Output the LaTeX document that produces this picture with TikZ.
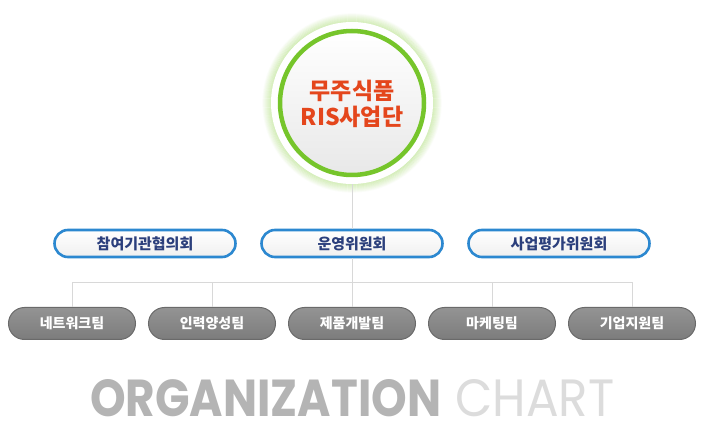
\documentclass[tikz,border=0pt]{standalone}
\usepackage{graphicx}
\usepackage{fontspec}
\newfontfamily\kr{Noto Sans CJK KR}
\newfontfamily\pop{Poppins}
\usetikzlibrary{shapes.misc,calc}
\definecolor{ringgreen}{HTML}{76C52B}
\definecolor{glowgreen}{HTML}{A8DC70}
\definecolor{titlered}{HTML}{E4461C}
\definecolor{boxblue}{HTML}{2C88D0}
\definecolor{navy}{HTML}{2B3F7C}
\definecolor{teamgray}{HTML}{8A8A8A}
\definecolor{teamedge}{HTML}{6A6A6A}
\definecolor{linegray}{HTML}{D8D8D8}
\definecolor{orggray}{HTML}{B4B4B4}
\definecolor{chartgray}{HTML}{DCDCDC}
\tikzset{
  comm/.style={rounded rectangle, draw=boxblue, line width=2.6pt, top color=white, bottom color=black!6,
    minimum width=181pt, minimum height=27pt, inner sep=0pt, text=navy,
    font=\kr\bfseries\fontsize{15}{17}\selectfont},
  team/.style={rounded rectangle, draw=teamedge, line width=1pt, top color=teamgray!92!white, bottom color=teamgray!90!black,
    minimum width=127pt, minimum height=32pt, inner sep=0pt, text=white,
    font=\kr\bfseries\fontsize{14}{16}\selectfont},
  conn/.style={draw=linegray, line width=1pt}
}
\begin{document}
\begin{tikzpicture}[x=1pt,y=-1pt]
\fill[white] (0,0) rectangle (704,435);
\useasboundingbox (0,0) rectangle (704,435);
% glow
\foreach \i in {0,...,10}{
  \pgfmathsetmacro\op{0.5*(1-\i/11)}
  \pgfmathsetmacro\rr{79+\i}
  \draw[glowgreen, opacity=\op, line width=1.2pt] (352,103) circle (\rr pt);
}
\node[circle, fill=white, minimum size=162pt, inner sep=0pt] (c) at (352,103) {};
\draw[ringgreen, line width=4.5pt, top color=white, bottom color=black!9] (c.center) circle (72pt);
\node[text=titlered, align=center, font=\kr\bfseries\fontsize{23}{26}\selectfont] (title) at (352,104) {무주식품\\RIS사업단};

% committees
\node[comm] (b1) at (145,243.5) {참여기관협의회};
\node[comm] (b2) at (352,243.5) {운영위원회};
\node[comm] (b3) at (559,243.5) {사업평가위원회};

% teams
\node[team] (t1) at (72,323.5) {네트워크팀};
\node[team] (t2) at (212,323.5) {인력양성팀};
\node[team] (t3) at (352,323.5) {제품개발팀};
\node[team] (t4) at (492,323.5) {마케팅팀};
\node[team] (t5) at (632,323.5) {기업지원팀};

% connectors
\coordinate (h) at (352,283);
\path[conn] (c.south) -- (b2.north);
\path[conn] (b2.south) -- (h);
\path[conn] (t1.north) -- (t1.north |- h) -- (t5.north |- h) -- (t5.north);
\foreach \t in {t2,t3,t4}{\path[conn] (\t.north) -- (\t.north |- h);}

% footer
\node[anchor=base west, inner sep=0pt, text=orggray] (org) at (90,417) {\pop\bfseries\resizebox{351pt}{37pt}{ORGANIZATION}};
\node[anchor=base west, inner sep=0pt, text=chartgray] (chart) at (455,417) {\pop\resizebox{159pt}{37pt}{CHART}};
\end{tikzpicture}
\end{document}
